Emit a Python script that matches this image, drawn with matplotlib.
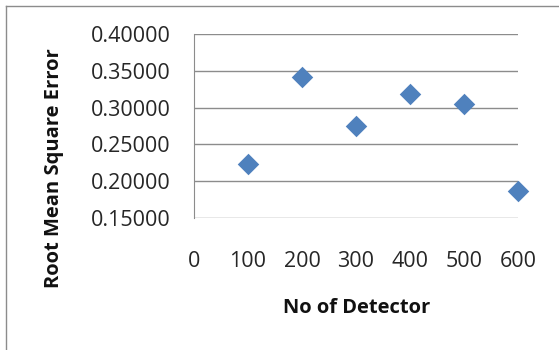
import matplotlib
matplotlib.use("Agg")
import matplotlib.pyplot as plt
from matplotlib.lines import Line2D

# data
detectors = [100, 200, 300, 400, 500, 600]
rmse = [0.223, 0.341, 0.275, 0.319, 0.305, 0.187]
yticks = [0.15, 0.20, 0.25, 0.30, 0.35, 0.40]
xticks = [0, 100, 200, 300, 400, 500, 600]

plt.rcParams['font.family'] = ['Open Sans', 'DejaVu Sans']

W, H = 559, 350
fig = plt.figure(figsize=(W / 100, H / 100), dpi=100)
ax = fig.add_axes([194 / W, 1 - 218 / H, (518 - 194) / W, (218 - 34) / H])

ax.scatter(detectors, rmse, marker='D', s=120, color='#4F81BD', zorder=3,
           linewidths=0, clip_on=False)

ax.set_xlim(0, 600)
ax.set_ylim(0.15, 0.40)
ax.set_yticks(yticks)
ax.set_yticklabels([f"{v:.5f}" for v in yticks])
ax.set_xticks(xticks)
ax.set_xticklabels([str(v) for v in xticks])
ax.tick_params(axis='both', length=0, labelsize=15.5, colors='#262626')
ax.tick_params(axis='x', pad=24)
ax.tick_params(axis='y', pad=17)
ax.grid(axis='y', color='#8c8c8c', linewidth=1)
ax.set_axisbelow(True)
for s in ['top', 'right', 'bottom']:
    ax.spines[s].set_visible(False)
ax.spines['left'].set_color('#8c8c8c')

ax.set_xlabel("No of Detector", fontsize=14.5, fontweight='bold', color='#111111')
ax.set_ylabel("Root Mean Square Error", fontsize=14.5, fontweight='bold', color='#111111')
# place the titles where they sit in the original
ax.xaxis.set_label_coords((357 - 194) / (518 - 194), -(308 - 218) / (218 - 34))
ax.yaxis.set_label_coords(-(194 - 54) / (518 - 194), (218 - 168) / (218 - 34))
ax.xaxis.label.set_va('center')
ax.yaxis.label.set_va('center')

# outer chart frame (top and left only visible)
fig.add_artist(Line2D([6 / W, 1], [1 - 6 / H, 1 - 6 / H], color='#8c8c8c', lw=1))
fig.add_artist(Line2D([6 / W, 6 / W], [0, 1 - 6 / H], color='#8c8c8c', lw=1))

fig.savefig("out.png", dpi=100)
